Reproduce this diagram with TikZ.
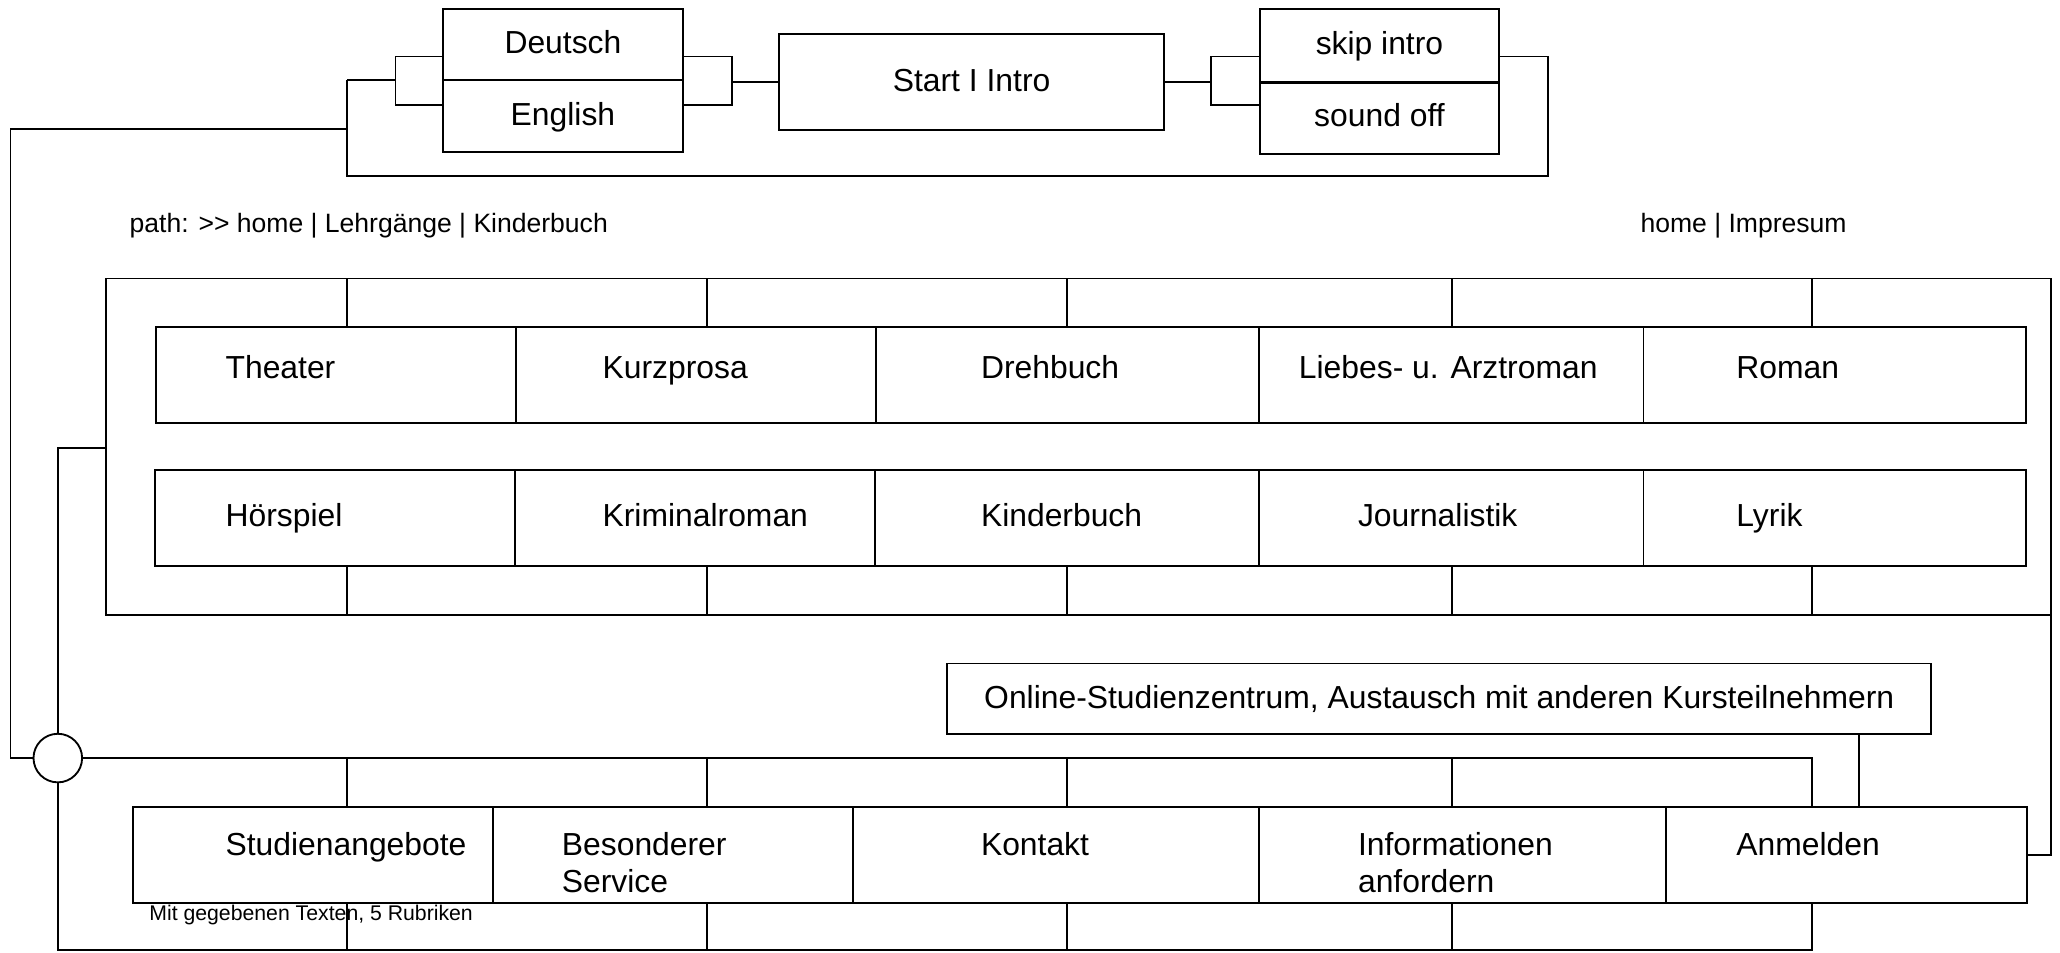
\documentclass[tikz,border=0pt]{standalone}
\usepackage{fontspec}
\setmainfont{Liberation Sans}
\usetikzlibrary{fit}
\def\cell(#1)(#2)(#3){\node[box, fit={(#2) (#3)}] (#1) {};}

\begin{document}
\begin{tikzpicture}[x=0.02cm, y=-0.02cm, line width=0.8pt,
		font=\fontsize{13.8}{15.9}\selectfont,
		box/.style={draw, inner sep=0pt},
		caption/.style={label={[inner sep=0pt, text height=9.9pt, text depth=0pt, yshift=1pt]center:#1}},
		txt/.style={inner sep=0pt, anchor=base west},
		note/.style={txt, font=\fontsize{11.5}{13.8}\selectfont},
		remark/.style={txt, font=\fontsize{9.2}{11}\selectfont},
		hub/.style={draw, circle, minimum size=0.74cm, inner sep=0pt}]
		%%%%% START %%%%%
		\useasboundingbox (0,0) rectangle (1568,725);
		
		\node[box, fit={(337,7) (520,61)}, caption=Deutsch] (deutsch) {};
		\node[box, fit={(337,61) (520,116)}, caption=English] (english) {};
		\node[box, fit={(593,26) (886,99)}, caption=Start I Intro] (start) {};
		\node[box, fit={(959,7) (1141,62)}, caption=skip intro] (skip) {};
		\node[box, fit={(959,62) (1141,117)}, caption=sound off] (sound) {};
		\draw[line width=1.6pt] (skip.south west) -- (skip.south east);
		
		\draw (deutsch.west |- 0,43) -- (301,43) -- (301,80) -- (english.west |- 0,80);
		\draw (301,61) -- (264,61);
		\draw (deutsch.east |- 0,43) -- (557,43) -- (557,80) -- (english.east |- 0,80);
		\draw (start.west -| 557,0) -- (start.west);
		\draw (start.east) -- (start.east -| 922,0);
		\draw (skip.west |- 0,43) -- (922,43) -- (922,80) -- (sound.west |- 0,80);
		\draw (skip.east |- 0,43) -- (1178,43) -- (1178,134) -- (264,134) -- (264,61);
		
		\node[note] (path) at (98,177) {path: >{}> home | Lehrgänge | Kinderbuch};
		\node[note] (meta) at (1248,177) {home | Impresum};
		
		% genres
		\draw (81,212) rectangle (1561,468);
		\cell(theater)(119,249)(393,322)
		\cell(kurzprosa)(393,249)(667,322)
		\cell(drehbuch)(667,249)(958,322)
		\cell(liebes)(958,249)(1251,322)
		\cell(roman)(1251,249)(1542,322)
		\cell(hoerspiel)(118,358)(392,431)
		\cell(krimi)(392,358)(666,431)
		\cell(kinderbuch)(666,358)(958,431)
		\cell(journal)(958,358)(1251,431)
		\cell(lyrik)(1251,358)(1542,431)
		\foreach \x in {264,538,812,1105,1379} {
			\draw (\x,212) -- (\x,249);
			\draw (\x,431) -- (\x,468);
		}
		\node[txt] (ttheater) at (171,288) {Theater};
		\node[txt] (tkurzprosa) at (458,288) {Kurzprosa};
		\node[txt] (tdrehbuch) at (746,288) {Drehbuch};
		\node[txt] (tliebes) at (988,288) {Liebes- u. Arztroman};
		\node[txt] (troman) at (1321,288) {Roman};
		\node[txt] (thoerspiel) at (171,400.5) {Hörspiel};
		\node[txt] (tkrimi) at (458,400.5) {Kriminalroman};
		\node[txt] (tkinderbuch) at (746,400.5) {Kinderbuch};
		\node[txt] (tjournal) at (1033,400.5) {Journalistik};
		\node[txt] (tlyrik) at (1321,400.5) {Lyrik};
		
		% hub and main menu
		\node[hub] (hub) at (44,577) {};
		\draw (264,98) -- (8,98) -- (8,577) -- (hub.west);
		\draw (81,341) -- (44,341) -- (hub.north);
		
		\node[box, fit={(721,505) (1470,559)}, caption=Online-Studienzentrum{,} Austausch mit anderen Kursteilnehmern] (online) {};
		\cell(studien)(101,614)(375,687)
		\cell(service)(375,614)(649,687)
		\cell(kontakt)(649,614)(958,687)
		\cell(info)(958,614)(1268,687)
		\cell(anmelden)(1268,614)(1543,687)
		\draw (hub.east) -- (1379,577) -- (1379,614);
		\draw (hub.south) -- (44,723) -- (1379,723) -- (1379,687);
		\foreach \x in {264,538,812,1105} {
			\draw (\x,577) -- (\x,614);
			\draw (\x,687) -- (\x,723);
		}
		\draw (online.south -| 1415,0) -- (anmelden.north -| 1415,0);
		\draw (1561,468) -- (anmelden.east -| 1561,0) -- (anmelden.east);
		
		\node[txt] (tstudien) at (171,651.5) {Studienangebote};
		\node[txt] (tservice) at (427,651.5) {Besonderer};
		\node[txt] (tservice2) at (427,679.5) {Service};
		\node[txt] (tkontakt) at (746,651.5) {Kontakt};
		\node[txt] (tinfo) at (1033,651.5) {Informationen};
		\node[txt] (tinfo2) at (1033,679.5) {anfordern};
		\node[txt] (tanmelden) at (1321,651.5) {Anmelden};
		
		\node[remark] (rubriken) at (113,701) {Mit gegebenen Texten, 5 Rubriken};
		
		%%%%% END %%%%%
	\end{tikzpicture}
\end{document}
